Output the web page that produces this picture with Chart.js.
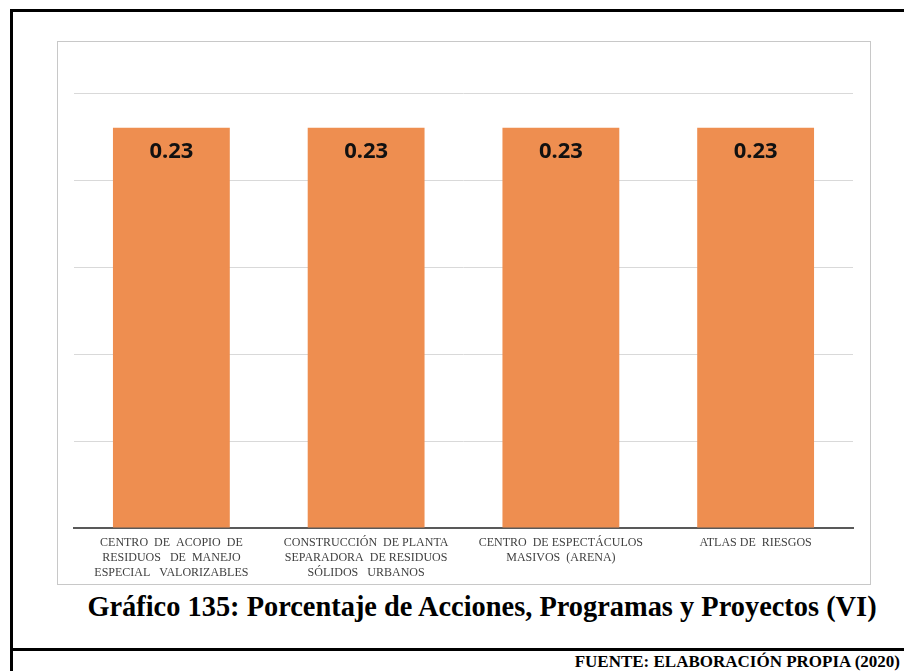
<!DOCTYPE html>
<html>
<head>
<meta charset="utf-8">
<script src="https://cdn.jsdelivr.net/npm/chart.js"></script>
<style>
  body { margin: 0; background: #fff; width: 904px; height: 671px; position: relative; overflow: hidden; }
  .outer { position: absolute; left: 10px; top: 9px; width: 1000px; height: 700px; border-left: 3px solid #000; border-top: 3px solid #000; }
  .rule { position: absolute; left: 10px; top: 648px; width: 900px; height: 3px; background: #000; }
  .frame { position: absolute; left: 57px; top: 41px; width: 812px; height: 542px; border: 1px solid #c8c8c8; }
  #barChart { position: absolute; left: 58px; top: 42px; display: block; }
  .caption { position: absolute; left: 60px; top: 591px; width: 844px; text-align: center; font-family: "Liberation Serif", serif; font-weight: bold; font-size: 28.4px; color: #000; white-space: nowrap; }
  .source { position: absolute; right: 4px; top: 652px; font-family: "Liberation Serif", serif; font-weight: bold; font-size: 17px; color: #000; white-space: nowrap; }
</style>
</head>
<body>
<div class="outer"></div>
<div class="rule"></div>
<div class="frame"></div>
<canvas id="barChart" width="811" height="547"></canvas>
<div class="caption">Gráfico 135: Porcentaje de Acciones, Programas y Proyectos (VI)</div>
<div class="source">FUENTE: ELABORACIÓN PROPIA (2020)</div>
<script>
const categories = [
    ["CENTRO  DE  ACOPIO  DE", "RESIDUOS   DE  MANEJO", "ESPECIAL   VALORIZABLES"],
    ["CONSTRUCCIÓN  DE PLANTA", "SEPARADORA  DE RESIDUOS", "SÓLIDOS   URBANOS"],
    ["CENTRO  DE ESPECTÁCULOS", "MASIVOS  (ARENA)"],
    ["ATLAS DE  RIESGOS"]
];
const values = [0.23, 0.23, 0.23, 0.23];
const yMax = 0.25;
const yStep = 0.05;

const labelFont = "'Liberation Serif', 'Times New Roman', serif";
Chart.defaults.font.family = labelFont;

// draws the value near the top of each bar
const valueLabels = {
    id: 'valueLabels',
    afterDatasetsDraw(chart) {
        const ctx = chart.ctx;
        const meta = chart.getDatasetMeta(0);
        ctx.save();
        ctx.font = 'bold 22px "Noto Sans", sans-serif';
        ctx.fillStyle = '#111';
        ctx.textAlign = 'center';
        ctx.textBaseline = 'middle';
        meta.data.forEach((bar, i) => {
            ctx.fillText(values[i].toFixed(2), bar.x, bar.y + 24);
        });
        ctx.restore();
    }
};

let ctxBar = document.getElementById('barChart').getContext('2d');
let barChart = new Chart(ctxBar, {
    type: 'bar',
    data: {
        labels: categories,
        datasets: [{
            data: values,
            backgroundColor: '#ee8e50',
            borderWidth: 0,
            barPercentage: 0.6,
            categoryPercentage: 1
        }]
    },
    options: {
        responsive: false,
        animation: false,
        layout: { padding: { left: 16, right: 16, top: 51, bottom: 2 } },
        plugins: { legend: { display: false }, tooltip: { enabled: false } },
        scales: {
            x: {
                grid: { display: false, drawTicks: false, tickLength: 0 },
                border: { display: true, color: '#595959', width: 2 },
                ticks: {
                    color: '#404040',
                    maxRotation: 0,
                    autoSkip: false,
                    padding: 7,
                    font: { family: labelFont, size: 12, lineHeight: '15px' }
                }
            },
            y: {
                min: 0,
                max: yMax,
                ticks: { display: false, stepSize: yStep },
                grid: { color: '#d9d9d9', drawTicks: false },
                border: { display: false }
            }
        }
    },
    plugins: [valueLabels]
});
</script>
</body>
</html>
